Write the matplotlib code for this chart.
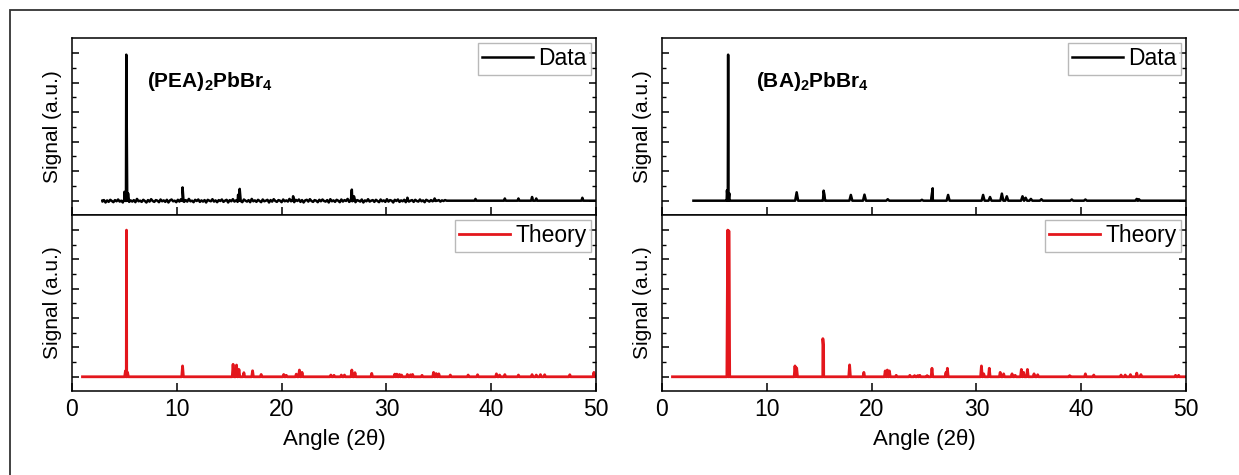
import numpy as np
import matplotlib
matplotlib.use('Agg')
import matplotlib.pyplot as plt
from matplotlib.patches import Rectangle

plt.rcParams['font.family'] = ['Liberation Sans', 'DejaVu Sans']
plt.rcParams['mathtext.fontset'] = 'custom'
plt.rcParams['mathtext.rm'] = 'Liberation Sans'
plt.rcParams['mathtext.bf'] = 'Liberation Sans:bold'

# --- x range (2 theta) ---
ANG_MAX = 50
x_ticks = [0, 10, 20, 30, 40, 50]

# --- (PEA)2PbBr4 measured ---
pea_data_start = 2.9
# baseline noise read by eye, thousandths, every 0.15 deg from 2.9
pea_data_noise = [
    -6, 4, -12, 2, -8, 6, -2, -10, 4, -4,
    8, -6, 0, -12, 6, -2, 10, -8, 2, -6,
    4, -10, 12, -4, 0, -8, 6, -2, -12, 4,
    -6, 10, -2, -8, 4, 0, -10, 8, -4, 2,
    -8, 6, -12, 2, 8, -4, 0, -10, 6, -6,
    10, -2, -8, 4, -6, 12, -4, 0, -10, 6,
    -2, 8, -8, 2, -6, 4, -12, 6, 0, -4,
    10, -6, 2, -10, 4, -2, 8, -8, 0, 6,
    -12, 4, -4, 10, -6, 2, -8, 6, -2, -10,
    8, 0, -6, 4, -10, 12, -4, 2, -8, 6,
    -2, -10, 8, -4, 0, 6, -12, 4, -6, 10,
    -2, -8, 4, 0, -10, 8, -4, 2, -6, 12,
    -4, 0, -10, 6, -2, 8, -8, 4, -12, 2,
    6, -6, 10, -2, -8, 4, 0, -10, 6, -4,
    8, -2, -6, 4, -12, 10, -4, 2, -8, 6,
    0, -10, 8, -6, 4, -2, 12, -8, 2, -4,
    6, -10, 4, 0, -6, 8, -12, 2, -4, 10,
    -6, 0, 4, -8, 6, -2, -10, 8, -4, 2,
    -8, 10, -6, 4, 0, -12, 6, -2, 8, -8,
    2, -4, 6, -10, 12, -6, 0, 4, -8, 6,
    -2, -6, 8, -4, 2, -10, 6, 0, -6, 4,
    -4, 6, -2, 0, 4, -6, 2, -2, 4, 0, 0,
]
pea_data_px = [5.0, 5.18, 5.35, 10.55, 15.85, 16.0, 21.1, 26.7, 26.9, 32.0,
               34.6, 38.5, 41.3, 42.6, 43.9, 44.3, 48.7]
pea_data_h = [0.06, 0.99, 0.05, 0.09, 0.04, 0.08, 0.03, 0.075, 0.03, 0.02,
              0.015, 0.012, 0.015, 0.015, 0.025, 0.015, 0.02]

# --- (PEA)2PbBr4 theory ---
pea_theo_start = 1.0
pea_theo_px = [5.1, 5.2, 5.3, 10.55, 15.37, 15.7, 15.93, 16.4, 17.23, 18.05,
               20.2, 20.45, 21.4, 21.7, 21.95, 24.7, 25.0, 25.7, 26.0, 26.7,
               27.0, 28.6, 30.8, 31.0, 31.25, 31.45, 32.0, 32.3, 32.5, 33.4,
               34.5, 34.75, 35.0, 36.1, 37.8, 38.7, 40.5, 40.8, 41.3, 42.6,
               43.9, 44.3, 44.7, 45.1, 47.5, 49.8]
pea_theo_h = [0.04, 1.0, 0.03, 0.074, 0.085, 0.08, 0.05, 0.028, 0.041, 0.016,
              0.016, 0.01, 0.018, 0.046, 0.03, 0.012, 0.01, 0.012, 0.012, 0.046,
              0.028, 0.023, 0.018, 0.018, 0.016, 0.012, 0.016, 0.014, 0.016, 0.01,
              0.03, 0.022, 0.02, 0.012, 0.012, 0.014, 0.02, 0.012, 0.015, 0.012,
              0.015, 0.012, 0.015, 0.014, 0.014, 0.03]

# --- (BA)2PbBr4 measured ---
ba_data_start = 3.0
ba_data_px = [6.2, 6.31, 6.42, 12.85, 15.42, 15.5, 18.02, 19.32, 21.54, 24.8,
              25.7, 25.83, 27.3, 30.64, 31.3, 32.43, 32.9, 34.4, 34.7, 35.2,
              36.2, 39.1, 40.4, 45.3, 45.5]
ba_data_h = [0.07, 0.99, 0.05, 0.057, 0.068, 0.04, 0.039, 0.041, 0.01, 0.006,
             0.02, 0.084, 0.039, 0.039, 0.025, 0.048, 0.03, 0.03, 0.02, 0.012,
             0.01, 0.008, 0.008, 0.012, 0.01]

# --- (BA)2PbBr4 theory ---
ba_theo_start = 1.0
ba_theo_px = [6.27, 6.38, 12.69, 12.85, 15.35, 15.42, 17.9, 19.26, 21.3, 21.5,
              21.7, 22.35, 23.65, 24.1, 24.4, 24.6, 25.3, 25.76, 27.1, 27.23,
              30.48, 30.7, 31.23, 32.27, 32.6, 33.4, 33.7, 34.29, 34.5, 34.87,
              35.5, 35.85, 38.9, 40.4, 41.2, 43.8, 44.2, 44.7, 45.3, 45.7,
              49.0, 49.3]
ba_theo_h = [1.0, 0.995, 0.074, 0.06, 0.26, 0.2, 0.081, 0.03, 0.04, 0.046,
             0.04, 0.01, 0.01, 0.008, 0.008, 0.01, 0.008, 0.058, 0.03, 0.058,
             0.074, 0.02, 0.058, 0.03, 0.02, 0.02, 0.01, 0.05, 0.03, 0.05,
             0.02, 0.014, 0.008, 0.02, 0.012, 0.012, 0.012, 0.015, 0.025, 0.015,
             0.01, 0.01]

RED = '#e3161c'


def build_trace(start, peak_x, peak_h, half_w, noise=None, step=0.15):
    xs = [start, ANG_MAX]
    ys = [0.0, 0.0]
    if noise is not None:
        xs += [start + step * i for i in range(len(noise))]
        ys += [v / 1000 for v in noise]
    for px, ph in zip(peak_x, peak_h):
        xs += [px - half_w, px, px + half_w]
        ys += [0.0, ph, 0.0]
    order = np.argsort(xs, kind='stable')
    return np.array(xs)[order], np.array(ys)[order]


def style_axes(ax, bottom):
    ax.set_xlim(0, ANG_MAX)
    ax.set_ylim(-0.097, 1.103)
    ax.set_xticks(x_ticks)
    ax.set_yticks([0, 0.2, 0.4, 0.6, 0.8, 1.0])
    ax.set_yticks([0.1, 0.3, 0.5, 0.7, 0.9], minor=True)
    ax.set_yticklabels([])
    ax.tick_params(axis='y', which='both', direction='in', left=True, right=True)
    ax.tick_params(axis='y', which='major', length=5, width=1.1)
    ax.tick_params(axis='y', which='minor', length=3, width=1.0)
    ax.tick_params(axis='x', which='major', direction='in', length=6, width=1.1,
                   top=False, bottom=True, labelsize=16.5, pad=5)
    if not bottom:
        ax.set_xticklabels([])
    else:
        ax.set_xlabel('Angle (2θ)', fontsize=16, labelpad=6)
    for s in ax.spines.values():
        s.set_linewidth(1.1)
    ax.set_ylabel('Signal (a.u.)', fontsize=15, labelpad=4)


W, H = 1239, 475
fig = plt.figure(figsize=(W / 100, H / 100), dpi=100)

panels = [
    (72, 'PEA', (pea_data_start, pea_data_px, pea_data_h, pea_data_noise),
     (pea_theo_start, pea_theo_px, pea_theo_h), 7.2),
    (662, 'BA', (ba_data_start, ba_data_px, ba_data_h, None),
     (ba_theo_start, ba_theo_px, ba_theo_h), 9.0),
]

for left, name, data, theo, text_x in panels:
    ax_top = fig.add_axes([left / W, 1 - 215 / H, 524 / W, 177 / H])
    ax_bot = fig.add_axes([left / W, 1 - 391 / H, 524 / W, 176 / H])

    hw = 0.09 if data[3] is not None else 0.14
    x, y = build_trace(data[0], data[1], data[2], hw, noise=data[3])
    ax_top.plot(x, y, color='black', lw=1.8, label='Data')
    x, y = build_trace(theo[0], theo[1], theo[2], 0.08)
    ax_bot.plot(x, y, color=RED, lw=2.0, label='Theory')

    style_axes(ax_top, False)
    style_axes(ax_bot, True)

    ax_top.text(text_x, 0.77, r'$\mathbf{(' + name + r')_2PbBr_4}$',
                fontsize=15, va='baseline', ha='left')

    for ax in (ax_top, ax_bot):
        leg = ax.legend(loc='upper right', fontsize=16.5, frameon=True,
                        fancybox=False, handlelength=2.2, handletextpad=0.25,
                        borderpad=0.2, borderaxespad=0.2)
        leg.get_frame().set_edgecolor('#a8a8a8')
        leg.get_frame().set_linewidth(1.0)

# outer frame, only top and left edges fall inside the image
fig.add_artist(Rectangle((10 / W, -0.05), 1.1, 1 - 10 / H + 0.05,
                         transform=fig.transFigure, fill=False,
                         lw=1.3, ec='#333333'))

fig.savefig('out.png', dpi=100)
